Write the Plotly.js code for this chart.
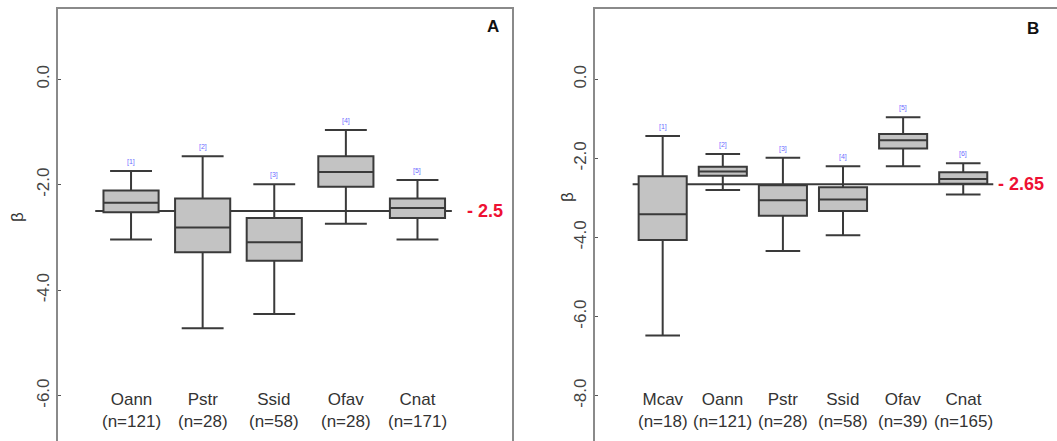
<!DOCTYPE html>
<html>
<head>
<meta charset="utf-8">
<script src="https://cdn.plot.ly/plotly-3.0.1.min.js"></script>
<style>
  html, body { margin: 0; padding: 0; background: #fff; overflow: hidden; }
  #chart { width: 1057px; height: 441px; }
</style>
</head>
<body>
<div id="chart"></div>
<script>
// Panel A: beta exponent per species
const speciesA  = ["Oann", "Pstr", "Ssid", "Ofav", "Cnat"];
const nA        = [121, 28, 58, 28, 171];
const upperA    = [-1.74, -1.46, -1.99, -0.96, -1.91];
const q3A       = [-2.11, -2.26, -2.63, -1.46, -2.26];
const medianA   = [-2.34, -2.81, -3.09, -1.76, -2.44];
const q1A       = [-2.52, -3.28, -3.44, -2.04, -2.63];
const lowerA    = [-3.04, -4.72, -4.45, -2.74, -3.04];
const refA      = -2.5;

// Panel B: beta exponent per species
const speciesB  = ["Mcav", "Oann", "Pstr", "Ssid", "Ofav", "Cnat"];
const nB        = [18, 121, 28, 58, 39, 165];
const upperB    = [-1.43, -1.89, -1.98, -2.20, -0.96, -2.12];
const q3B       = [-2.45, -2.21, -2.68, -2.73, -1.38, -2.35];
const medianB   = [-3.41, -2.33, -3.06, -3.04, -1.54, -2.52];
const q1B       = [-4.06, -2.44, -3.45, -3.33, -1.75, -2.64];
const lowerB    = [-6.48, -2.80, -4.34, -3.94, -2.20, -2.91];
const refB      = -2.65;

const tickValsA = [0, -2, -4, -6];
const tickValsB = [0, -2, -4, -6, -8];

const W = 1057, H = 441;
const FONT = "Liberation Sans, Arial, sans-serif";
const frameColor = "#8a8a8a";
const boxLine = "#3a3a3a";

function boxTrace(cats, lo, q1, med, q3, hi, xa, ya, width, ww) {
  return {
    type: "box", xaxis: xa, yaxis: ya,
    x: cats, lowerfence: lo, q1: q1, median: med, q3: q3, upperfence: hi,
    width: width, whiskerwidth: ww, boxpoints: false,
    fillcolor: "#c3c3c3", line: { color: boxLine, width: 2 },
    hoverinfo: "skip", showlegend: false
  };
}

const traces = [
  boxTrace(speciesA, lowerA, q1A, medianA, q3A, upperA, "x", "y", 0.77, 0.76),
  boxTrace(speciesB, lowerB, q1B, medianB, q3B, upperB, "x2", "y2", 0.8, 0.72)
];

function yAxis(range, ticks, anchor, mirror) {
  return {
    domain: [0, 1 - 9 / H], range: range, anchor: anchor,
    tickvals: ticks, ticktext: ticks.map(v => v.toFixed(1)),
    tickangle: -90, tickfont: { family: FONT, size: 17, color: "#444" },
    ticks: "inside", ticklen: 3, tickcolor: "#555", tickwidth: 1,
    showline: true, linecolor: frameColor, linewidth: 2, mirror: mirror,
    showgrid: false, zeroline: false, ticklabelstandoff: 0
  };
}

function xAxis(domain, range, cats, anchor) {
  return {
    domain: domain, range: range, anchor: anchor, side: "top",
    type: "category", categoryarray: cats,
    showticklabels: false, ticks: "", showgrid: false, zeroline: false,
    showline: true, linecolor: frameColor, linewidth: 2
  };
}

// category labels with sample sizes, placed under the boxes
function catLabels(cats, ns, xref) {
  return cats.map((c, i) => ({
    xref: xref, yref: "paper", x: i, y: 1 - 410 / H,
    text: c + "<br>(n=" + ns[i] + ")", showarrow: false,
    font: { family: FONT, size: 17, color: "#333" }, align: "center",
    xanchor: "center", yanchor: "middle"
  }));
}

// small group indices above the upper whiskers
function groupTags(upper, xref, yref) {
  return upper.map((v, i) => ({
    xref: xref, yref: yref, x: i, y: v, yshift: 9,
    text: "[" + (i + 1) + "]", showarrow: false,
    font: { family: FONT, size: 7, color: "#6f6fff" }
  }));
}

// vertical axis titles
function betaTitle(xPx, yPx) {
  return {
    xref: "paper", yref: "paper", x: xPx / W, y: 1 - yPx / H,
    xanchor: "center", yanchor: "middle", textangle: -90,
    text: "β", showarrow: false,
    font: { family: FONT, size: 17, color: "#333" }
  };
}

const annotations = [
  ...catLabels(speciesA, nA, "x"),
  ...catLabels(speciesB, nB, "x2"),
  ...groupTags(upperA, "x", "y"),
  ...groupTags(upperB, "x2", "y2"),
  betaTitle(17, 217),
  betaTitle(567, 197),
  { xref: "x", yref: "y", x: 4.66, y: refA, xanchor: "left", yanchor: "middle",
    text: "- " + Math.abs(refA), showarrow: false,
    font: { family: FONT, size: 18, color: "#ee1133", weight: "bold" } },
  { xref: "x2", yref: "y2", x: 5.55, y: refB, xanchor: "left", yanchor: "middle",
    text: "- " + Math.abs(refB), showarrow: false,
    font: { family: FONT, size: 18, color: "#ee1133", weight: "bold" } },
  { xref: "paper", yref: "paper", x: 493 / W, y: 1 - 27 / H, xanchor: "center", yanchor: "middle",
    text: "<b>A</b>", showarrow: false, font: { family: FONT, size: 17, color: "#111" } },
  { xref: "paper", yref: "paper", x: 1033 / W, y: 1 - 28 / H, xanchor: "center", yanchor: "middle",
    text: "<b>B</b>", showarrow: false, font: { family: FONT, size: 17, color: "#111" } }
];

// reference slope lines, drawn behind the boxes
const shapes = [
  { type: "line", xref: "x", yref: "y", x0: -0.5, x1: speciesA.length - 0.52,
    y0: refA, y1: refA, layer: "below", line: { color: boxLine, width: 2 } },
  { type: "line", xref: "x2", yref: "y2", x0: -0.5, x1: speciesB.length - 0.5,
    y0: refB, y1: refB, layer: "below", line: { color: boxLine, width: 2 } }
];

const layout = {
  width: W, height: H,
  margin: { l: 0, r: 0, t: 0, b: 0, pad: 0 },
  paper_bgcolor: "#fff", plot_bgcolor: "#fff",
  showlegend: false,
  xaxis: xAxis([58 / W, 512 / W], [-1.02, 5.32], speciesA, "y"),
  yaxis: yAxis([-6.86, 1.333], tickValsA, "x", true),
  xaxis2: xAxis([595 / W, 1], [-1.126, 6.56], speciesB, "y2"),
  yaxis2: yAxis([-9.145, 1.778], tickValsB, "x2", false),
  annotations: annotations,
  shapes: shapes
};

Plotly.newPlot("chart", traces, layout, { staticPlot: true, displayModeBar: false });
</script>
</body>
</html>
